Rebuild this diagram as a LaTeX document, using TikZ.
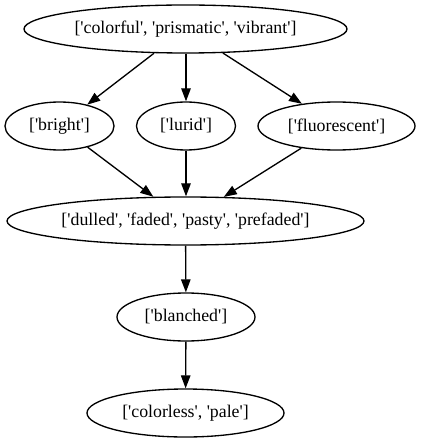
\documentclass[tikz,border=0pt]{standalone}
\usepackage{fontspec}
\setmainfont{Liberation Serif}
\usetikzlibrary{shapes.geometric,arrows.meta}
\newcommand\sq{\textquotesingle}
\begin{document}
\begin{tikzpicture}[x=1pt,y=-1pt,
  nd/.style={draw, ellipse, inner sep=0pt, line width=1.33pt, minimum height=48pt},
  tx/.style={font=\fontsize{17.8}{21}\selectfont, inner sep=0pt},
  ed/.style={line width=1.33pt, -{Triangle[length=13pt,width=9.5pt]}}]
\useasboundingbox (0,0) rectangle (420,443);
\node[nd, minimum width=323pt, label={[tx]center:[\sq colorful\sq, \sq prismatic\sq, \sq vibrant\sq]}] (top) at (185.5,29) {};
\node[nd, minimum width=109pt, label={[tx]center:[\sq bright\sq]}] (bright) at (59.5,126) {};
\node[nd, minimum width=99pt, label={[tx]center:[\sq lurid\sq]}] (lurid) at (186,126) {};
\node[nd, minimum width=157pt, label={[tx]center:[\sq fluorescent\sq]}] (fluor) at (336.5,126) {};
\node[nd, minimum width=357pt, label={[tx]center:[\sq dulled\sq, \sq faded\sq, \sq pasty\sq, \sq prefaded\sq]}] (dulled) at (185.5,221) {};
\node[nd, minimum width=138pt, label={[tx]center:[\sq blanched\sq]}] (blanched) at (186,317) {};
\node[nd, minimum width=197pt, label={[tx]center:[\sq colorless\sq, \sq pale\sq]}] (colorless) at (185.5,413) {};
\draw[ed] (top) -- (bright);
\draw[ed] (top.south -| lurid) -- (lurid);
\draw[ed] (top) -- (fluor);
\draw[ed] (bright) -- (dulled);
\draw[ed] (lurid) -- (dulled.north -| lurid);
\draw[ed] (fluor) -- (dulled);
\draw[ed] (dulled) -- (blanched);
\draw[ed] (blanched) -- (colorless);
\end{tikzpicture}
\end{document}
